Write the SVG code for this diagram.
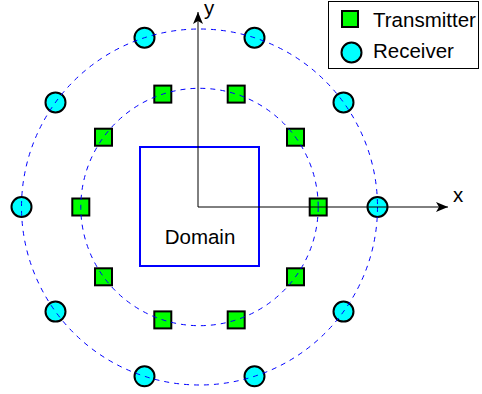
<svg xmlns="http://www.w3.org/2000/svg" width="482" height="394" viewBox="0 0 482 394">
  <style>
    .tx { fill: #00ff00; stroke: #000; stroke-width: 2; }
    .rx { fill: #00ffff; stroke: #000; stroke-width: 2; }
    .ring { fill: none; stroke: #0000ff; stroke-width: 1; stroke-dasharray: 5 5; }
    .axis { fill: none; stroke: #000; stroke-width: 1; }
    .lbl { font-family: "Liberation Sans", Arial, sans-serif; font-size: 20.5px; fill: #000; }
  </style>
  <defs>
    <marker id="arrow" viewBox="0 0 12 10" refX="12" refY="5" markerWidth="12" markerHeight="10" markerUnits="userSpaceOnUse" orient="auto">
      <path d="M0,0 L12,5 L0,10 L3,5 Z" fill="#000"/>
    </marker>
    <rect id="txm" x="-8.5" y="-8.5" width="17" height="17" class="tx"/>
    <circle id="rxm" r="10" class="rx"/>
  </defs>

  <rect width="482" height="394" fill="#fff"/>

  <!-- measurement domain -->
  <g id="domain">
    <rect x="140" y="147" width="119" height="119" fill="none" stroke="#0000ff" stroke-width="2"/>
    <text class="lbl" x="200" y="244" text-anchor="middle">Domain</text>
  </g>

  <!-- transmitters on inner ring, r = 118.7, every 36 deg -->
  <g id="transmitters" transform="translate(199.5 207)">
    <use href="#txm" x="118.7" y="0"/>
    <use href="#txm" x="96.0" y="-69.8"/>
    <use href="#txm" x="36.7" y="-112.9"/>
    <use href="#txm" x="-36.7" y="-112.9"/>
    <use href="#txm" x="-96.0" y="-69.8"/>
    <use href="#txm" x="-118.7" y="0"/>
    <use href="#txm" x="-96.0" y="69.8"/>
    <use href="#txm" x="-36.7" y="112.9"/>
    <use href="#txm" x="36.7" y="112.9"/>
    <use href="#txm" x="96.0" y="69.8"/>
  </g>

  <!-- receivers on outer ring, r = 178, every 36 deg -->
  <g id="receivers" transform="translate(199.5 207)">
    <use href="#rxm" x="178" y="0"/>
    <use href="#rxm" x="144.0" y="-104.6"/>
    <use href="#rxm" x="55.0" y="-169.3"/>
    <use href="#rxm" x="-55.0" y="-169.3"/>
    <use href="#rxm" x="-144.0" y="-104.6"/>
    <use href="#rxm" x="-178" y="0"/>
    <use href="#rxm" x="-144.0" y="104.6"/>
    <use href="#rxm" x="-55.0" y="169.3"/>
    <use href="#rxm" x="55.0" y="169.3"/>
    <use href="#rxm" x="144.0" y="104.6"/>
  </g>

  <!-- dashed rings and coordinate axes -->
  <g id="connectors">
    <circle class="ring" cx="199.5" cy="207" r="118.7"/>
    <circle class="ring" cx="199.5" cy="207" r="178"/>
    <line class="axis" x1="198" y1="207" x2="448" y2="207" marker-end="url(#arrow)"/>
    <line class="axis" x1="198" y1="207" x2="198" y2="12" marker-end="url(#arrow)"/>
  </g>

  <g id="axis-labels">
    <text class="lbl" x="453" y="202">x</text>
    <text class="lbl" x="204" y="15">y</text>
  </g>

  <!-- legend -->
  <g id="legend">
    <rect x="328.5" y="1.5" width="150" height="67" fill="#fff" stroke="#000" stroke-width="1"/>
    <rect x="342" y="11" width="16" height="16" class="tx"/>
    <text class="lbl" x="373" y="27">Transmitter</text>
    <circle cx="351.5" cy="52.5" r="10" class="rx"/>
    <text class="lbl" x="373" y="58">Receiver</text>
  </g>
</svg>
